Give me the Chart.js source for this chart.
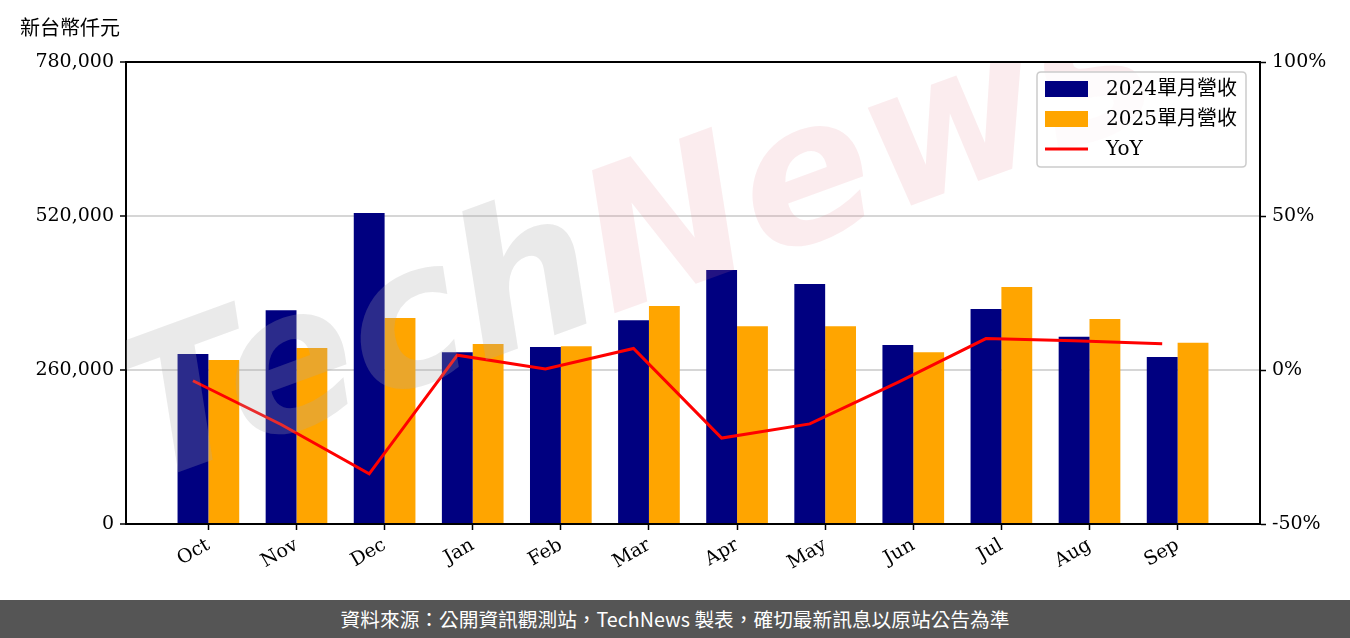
<!DOCTYPE html>
<html>
<head>
<meta charset="utf-8">
<script src="https://cdn.jsdelivr.net/npm/chart.js@4.4.1/dist/chart.umd.min.js"></script>
<style>
  html, body { margin: 0; padding: 0; background: #fff; }
  #wrap { position: relative; width: 1350px; height: 638px; overflow: hidden; }
  #c { position: absolute; left: 0; top: 0; }
  #footer { position: absolute; left: 0; top: 600px; width: 1350px; height: 38px; background: #555555;
    color: #fff; font-family: 'Noto Sans CJK TC', 'Noto Sans', sans-serif; font-size: 19.7px;
    line-height: 38px; text-align: center; }
</style>
</head>
<body>
<div id="wrap">
  <canvas id="c" width="1350" height="600"></canvas>
  <div id="footer">資料來源：公開資訊觀測站，TechNews 製表，確切最新訊息以原站公告為準</div>
</div>
<script>
const months = ['Oct','Nov','Dec','Jan','Feb','Mar','Apr','May','Jun','Jul','Aug','Sep'];
const rev2024 = [287000, 361000, 525000, 290000, 299000, 344000, 429000, 405000, 302000, 363000, 316000, 282000];
const rev2025 = [277000, 297000, 348000, 304000, 300000, 368000, 334000, 334000, 290000, 400000, 346000, 306000];
const yoy = [-3.5, -17.7, -33.7, 4.8, 0.3, 7.0, -22.1, -17.5, -4.0, 10.2, 9.5, 8.5];
const leftTicks = [0, 260000, 520000, 780000];
const rightTicks = [-50, 0, 50, 100];
const seriesNames = ['2024單月營收', '2025單月營收', 'YoY'];
const yTitle = '新台幣仟元';

const tickFont = { family: "'DejaVu Serif', 'Noto Sans CJK TC', serif", size: 19 };
const legendFont = "20px 'DejaVu Serif', 'Noto Sans CJK TC', serif";

const extras = {
  id: 'extras',
  afterDatasetsDraw(chart) {
    const ctx = chart.ctx, a = chart.chartArea;
    // watermark
    ctx.save();
    ctx.beginPath(); ctx.rect(a.left, a.top, a.right - a.left, a.bottom - a.top); ctx.clip();
    ctx.translate(a.left + 20, a.bottom - 40);
    ctx.rotate(-20 * Math.PI / 180);
    ctx.font = "italic bold 195px 'DejaVu Sans', sans-serif";
    ctx.textBaseline = 'alphabetic';
    ctx.fillStyle = 'rgba(170,170,170,0.25)';
    ctx.fillText('Tech', 0, 0);
    const w = ctx.measureText('Tech').width;
    ctx.fillStyle = 'rgba(225,130,140,0.15)';
    ctx.fillText('News', w, 0);
    ctx.restore();
  },
  afterDraw(chart) {
    const ctx = chart.ctx, a = chart.chartArea;
    ctx.save();
    // top border
    ctx.strokeStyle = '#000'; ctx.lineWidth = 2;
    ctx.beginPath(); ctx.moveTo(a.left - 1, a.top); ctx.lineTo(a.right + 1, a.top); ctx.stroke();
    // y title
    ctx.fillStyle = '#000';
    ctx.font = "20px 'Noto Sans CJK TC', sans-serif";
    ctx.textBaseline = 'middle'; ctx.textAlign = 'left';
    ctx.fillText(yTitle, 20, 27);
    // legend box
    const bx = a.right - 223, by = a.top + 10, bw = 209, bh = 95, r = 4;
    ctx.beginPath();
    ctx.moveTo(bx + r, by); ctx.lineTo(bx + bw - r, by); ctx.quadraticCurveTo(bx + bw, by, bx + bw, by + r);
    ctx.lineTo(bx + bw, by + bh - r); ctx.quadraticCurveTo(bx + bw, by + bh, bx + bw - r, by + bh);
    ctx.lineTo(bx + r, by + bh); ctx.quadraticCurveTo(bx, by + bh, bx, by + bh - r);
    ctx.lineTo(bx, by + r); ctx.quadraticCurveTo(bx, by, bx + r, by);
    ctx.closePath();
    ctx.fillStyle = 'rgba(255,255,255,0.8)'; ctx.fill();
    ctx.strokeStyle = '#cccccc'; ctx.lineWidth = 1.5; ctx.stroke();
    const ds = chart.data.datasets;
    ds.forEach((d, i) => {
      const cy = by + 17 + i * 30;
      if (d.type === 'line') {
        ctx.strokeStyle = d.borderColor; ctx.lineWidth = 3;
        ctx.beginPath(); ctx.moveTo(bx + 8, cy); ctx.lineTo(bx + 51, cy); ctx.stroke();
      } else {
        ctx.fillStyle = d.backgroundColor;
        ctx.fillRect(bx + 8, cy - 8, 43, 16);
      }
      ctx.fillStyle = '#000'; ctx.font = legendFont;
      ctx.textAlign = 'left'; ctx.textBaseline = 'middle';
      ctx.fillText(d.label, bx + 69, cy + 1);
    });
    ctx.restore();
  }
};

new Chart(document.getElementById('c'), {
  type: 'bar',
  data: {
    datasets: [
      { type: 'bar', label: seriesNames[0], yAxisID: 'y', order: 1,
        data: months.map((m, i) => ({ x: i, y: rev2024[i] })),
        backgroundColor: '#000080', barPercentage: 1, categoryPercentage: 0.7 },
      { type: 'bar', label: seriesNames[1], yAxisID: 'y', order: 1,
        data: months.map((m, i) => ({ x: i, y: rev2025[i] })),
        backgroundColor: '#ffa500', barPercentage: 1, categoryPercentage: 0.7 },
      { type: 'line', label: seriesNames[2], yAxisID: 'y2', order: 0,
        data: months.map((m, i) => ({ x: i - 0.175, y: yoy[i] })),
        borderColor: '#ff0000', backgroundColor: '#ff0000', borderWidth: 3, pointRadius: 0, tension: 0 }
    ]
  },
  options: {
    responsive: false, animation: false, devicePixelRatio: 1,
    layout: { padding: { left: 0, right: 0, top: 62, bottom: 0 } },
    plugins: { legend: { display: false }, tooltip: { enabled: false } },
    scales: {
      x: {
        type: 'linear', min: -0.935, max: 11.935, offset: false,
        afterBuildTicks: (s) => { s.ticks = months.map((m, i) => ({ value: i })); },
        afterFit: (s) => { s.height = 76; },
        ticks: { callback: (v) => months[Math.round(v)], minRotation: 30, maxRotation: 30,
          font: tickFont, color: '#000', padding: 4, autoSkip: false },
        grid: { offset: false, drawOnChartArea: false, drawTicks: true, tickLength: 6, tickColor: '#000', tickWidth: 1.5 },
        border: { display: true, color: '#000', width: 2 }
      },
      y: {
        position: 'left', min: 0, max: 780000,
        afterBuildTicks: (s) => { s.ticks = leftTicks.map(v => ({ value: v })); },
        afterFit: (s) => { s.width = 126; },
        ticks: { callback: (v) => v.toLocaleString('en-US'), font: tickFont, color: '#000', padding: 6 },
        grid: { color: '#d6d6d6', lineWidth: 2, tickLength: 6, tickColor: '#000', tickWidth: 1.5 },
        border: { display: true, color: '#000', width: 2 }
      },
      y2: {
        position: 'right', min: -50, max: 100,
        afterBuildTicks: (s) => { s.ticks = rightTicks.map(v => ({ value: v })); },
        afterFit: (s) => { s.width = 90; },
        ticks: { callback: (v) => v + '%', font: tickFont, color: '#000', padding: 6 },
        grid: { drawOnChartArea: false, tickLength: 6, tickColor: '#000', tickWidth: 1.5 },
        border: { display: true, color: '#000', width: 2 }
      }
    }
  },
  plugins: [extras]
});
</script>
</body>
</html>
